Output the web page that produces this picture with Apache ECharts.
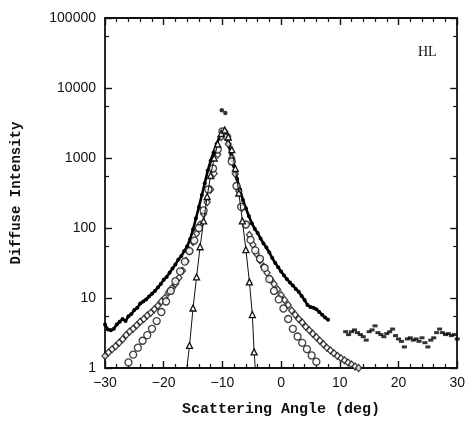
<!DOCTYPE html>
<html>
<head>
<meta charset="utf-8">
<script src="https://cdn.jsdelivr.net/npm/echarts@6/dist/echarts.min.js"></script>
<style>
  html, body { margin: 0; padding: 0; background: #fff; }
  #chart { width: 468px; height: 423px; }
</style>
</head>
<body>
<div id="chart"></div>
<script>
// measured intensity (filled dots), main curve
var measX = [-30, -29.5, -29, -28.5, -28, -27.5, -27, -26.5, -26, -25.5, -25, -24.5, -24, -23.5, -23, -22.5,
  -22, -21.5, -21, -20.5, -20, -19.5, -19, -18.5, -18, -17.5, -17, -16.5, -16, -15.5, -15, -14.5,
  -14, -13.5, -13, -12.5, -12, -11.5, -11, -10.5, -10, -9.5, -9, -8.5, -8, -7.5, -7, -6.5,
  -6, -5.5, -5, -4.5, -4, -3.5, -3, -2.5, -2, -1.5, -1, -0.5, 0, 0.5, 1, 1.5, 2, 2.5, 3, 3.5,
  4, 4.5, 5, 5.5, 6, 6.5, 7, 7.5, 8];
var measY = [4.17, 3.55, 3.47, 3.63, 4.17, 4.57, 5.01, 4.68, 5.5, 5.89, 6.76, 7.24, 8.32, 8.91, 9.55, 10.5,
  11.5, 12.6, 14.1, 15.8, 18.2, 20.0, 22.9, 26.3, 30.2, 35.5, 39.8, 46.8, 55.0, 69.2, 95.5, 138,
  200, 295, 437, 661, 912, 1202, 1585, 1995, 2512, 2239, 1585, 1122, 759, 501, 355, 251,
  191, 148, 117, 97.7, 85.1, 70.8, 60.3, 52.5, 44.7, 37.2, 31.6, 27.5, 24.0, 20.9, 18.6, 16.6, 15.1, 13.5, 12.3, 10.7,
  9.33, 7.94, 7.41, 7.24, 6.92, 6.31, 5.75, 5.25, 4.9];

// two stray points above the peak
var spikeX = [-10.1, -9.5];
var spikeY = [4800, 4400];

// background level beyond 11 deg
var tailX = [11, 11.5, 12, 12.5, 13, 13.5, 14, 14.5, 15, 15.5, 16, 16.5, 17, 17.5, 18, 18.5, 19, 19.5, 20,
  20.5, 21, 21.5, 22, 22.5, 23, 23.5, 24, 24.5, 25, 25.5, 26, 26.5, 27, 27.5, 28, 28.5, 29, 29.5, 30];
var tailY = [3.3, 3.0, 3.3, 3.5, 3.2, 3.0, 2.8, 2.5, 3.3, 3.5, 4.0, 3.2, 3.0, 2.8, 3.1, 3.3, 3.6, 2.9, 2.6,
  2.4, 2.0, 2.6, 2.7, 2.5, 2.6, 2.4, 2.7, 2.3, 2.0, 2.5, 2.7, 3.2, 3.6, 3.2, 3.0, 3.1, 2.9, 3.0, 2.6];

// open diamonds
var diamondX = [-30, -29.4, -28.8, -28.2, -27.6, -27, -26.4, -25.8, -25.2, -24.6, -24, -23.4, -22.8, -22.2,
  -21.6, -21, -20.4, -19.8, -19.2, -18.6, -18, -17.4, -16.8, -16.2, -15.6, -15, -14.4, -13.8, -13.2,
  -12.6, -12, -11.4, -10.8, -10.2, -9.6, -9, -8.4, -7.8, -7.2, -6.6, -6, -5.4, -4.8, -4.2, -3.6,
  -3, -2.4, -1.8, -1.2, -0.6, 0, 0.6, 1.2, 1.8, 2.4, 3, 3.6, 4.2, 4.8, 5.4, 6, 6.6, 7.2, 7.8,
  8.4, 9, 9.6, 10.2, 10.8, 11.4, 12, 12.6, 13.2];
var diamondY = [1.48, 1.66, 1.86, 2.04, 2.29, 2.57, 2.95, 3.31, 3.63, 4.07, 4.57, 5.01, 5.62, 6.17,
  6.92, 7.76, 8.91, 10, 12.0, 13.8, 15.8, 19.5, 24.5, 33.9, 46.8, 63.1, 83.2, 112, 158,
  234, 355, 603, 1122, 1995, 2399, 1585, 1000, 589, 339, 195, 112, 79.4, 57.5, 42.7, 34.7,
  28.2, 22.9, 18.6, 15.8, 13.2, 11.0, 9.33, 7.94, 6.61, 5.75, 5.01, 4.47, 3.89, 3.47, 3.09, 2.75, 2.45, 2.19, 1.95,
  1.78, 1.62, 1.48, 1.38, 1.29, 1.20, 1.12, 1.05, 1.0];

// open circles
var circleX = [-26, -25.2, -24.4, -23.6, -22.8, -22, -21.2, -20.4, -19.6, -18.8, -18, -17.2, -16.4, -15.6,
  -14.8, -14, -13.2, -12.4, -11.6, -10.8, -10, -9.2, -8.4, -7.6, -6.8, -6, -5.2, -4.4, -3.6, -2.8,
  -2, -1.2, -0.4, 0.4, 1.2, 2, 2.8, 3.6, 4.4, 5.2, 6];
var circleY = [1.2, 1.55, 1.95, 2.45, 2.95, 3.63, 4.68, 6.31, 8.91, 12.6, 17.4, 24.0, 33.1, 46.8,
  66.1, 100, 178, 355, 708, 1318, 2399, 1995, 891, 398, 200, 112, 67.6, 47.9, 36.3, 26.9,
  18.6, 12.6, 9.55, 7.08, 5.01, 3.63, 2.82, 2.29, 1.86, 1.51, 1.23];

// open triangles (narrow profile), ends run down to the axis
var triangleX = [-16.05, -15.6, -15, -14.4, -13.8, -13.2, -12.6, -12, -11.4, -10.8, -10.2, -9.6, -9,
  -8.4, -7.8, -7.2, -6.6, -6, -5.4, -4.9, -4.6, -4.4];
var triangleY = [1, 2.1, 7.2, 20, 54, 126, 282, 562, 1000, 1585, 2239, 2512, 1995,
  1318, 708, 316, 126, 49, 17, 5.8, 1.7, 1];

var xTicks = [-30, -20, -10, 0, 10, 20, 30];
var yTicks = [1, 10, 100, 1000, 10000, 100000];

function pairs(xs, ys) {
  return xs.map(function (x, i) { return [x, ys[i]]; });
}

var chart = echarts.init(document.getElementById('chart'));

var labelFont = 'Liberation Sans';
var tickStyle = { show: true, inside: true, length: 7, lineStyle: { color: '#111', width: 1.4 } };
var minorStyle = { show: true, length: 4, lineStyle: { color: '#111', width: 1.2 } };
var lineStyle = { show: true, onZero: false, lineStyle: { color: '#111', width: 1.8 } };

var openMarker = { color: '#fff', borderColor: '#111', borderWidth: 1.3 };

var option = {
  animation: false,
  backgroundColor: '#fff',
  title: {
    text: 'HL',
    left: 413,
    top: 40,
    textStyle: { fontFamily: 'Liberation Serif', fontSize: 14, fontWeight: 'normal', color: '#111' }
  },
  grid: { left: 105, right: 9, top: 18, bottom: 55 },
  xAxis: [{
    type: 'value',
    min: xTicks[0],
    max: xTicks[xTicks.length - 1],
    interval: 10,
    name: 'Scattering Angle (deg)',
    nameLocation: 'middle',
    nameGap: 34,
    nameTextStyle: { fontFamily: 'Liberation Mono', fontWeight: 'bold', fontSize: 15, color: '#111' },
    axisLine: lineStyle,
    axisTick: tickStyle,
    minorTick: Object.assign({ splitNumber: 5 }, minorStyle),
    splitLine: { show: false },
    axisLabel: {
      fontFamily: labelFont, fontSize: 14, color: '#111', margin: 8,
      formatter: function (v) { return String(v).replace('-', '\u2212'); }
    }
  }, {
    type: 'value',
    position: 'top',
    min: xTicks[0],
    max: xTicks[xTicks.length - 1],
    interval: 10,
    axisLine: lineStyle,
    axisTick: tickStyle,
    minorTick: Object.assign({ splitNumber: 5 }, minorStyle),
    splitLine: { show: false },
    axisLabel: { show: false }
  }],
  yAxis: [{
    type: 'log',
    logBase: 10,
    position: 'left',
    min: yTicks[0],
    max: yTicks[yTicks.length - 1],
    name: 'Diffuse Intensity',
    nameLocation: 'middle',
    nameGap: 82,
    nameTextStyle: { fontFamily: 'Liberation Mono', fontWeight: 'bold', fontSize: 14, color: '#111' },
    axisLine: lineStyle,
    axisTick: tickStyle,
    minorTick: Object.assign({ splitNumber: 2 }, minorStyle),
    splitLine: { show: false },
    axisLabel: {
      fontFamily: labelFont, fontSize: 14, color: '#111', margin: 9,
      formatter: function (v) { return String(Math.round(v)); }
    }
  }, {
    type: 'log',
    logBase: 10,
    position: 'right',
    min: yTicks[0],
    max: yTicks[yTicks.length - 1],
    axisLine: lineStyle,
    axisTick: tickStyle,
    minorTick: Object.assign({ splitNumber: 2 }, minorStyle),
    splitLine: { show: false },
    axisLabel: { show: false }
  }],
  series: [
    {
      type: 'line',
      data: pairs(measX, measY),
      symbol: 'circle',
      symbolSize: 4,
      itemStyle: { color: '#000' },
      lineStyle: { color: '#000', width: 2.6 },
      z: 2
    },
    {
      type: 'scatter',
      data: pairs(spikeX, spikeY),
      symbol: 'circle',
      symbolSize: 4.5,
      itemStyle: { color: '#000' },
      z: 2
    },
    {
      type: 'scatter',
      data: pairs(tailX, tailY),
      symbol: 'rect',
      symbolSize: [5, 3],
      itemStyle: { color: '#000' },
      z: 2
    },
    {
      type: 'scatter',
      data: pairs(diamondX, diamondY),
      symbol: 'diamond',
      symbolSize: [6, 7],
      itemStyle: openMarker,
      z: 3
    },
    {
      type: 'scatter',
      data: pairs(circleX, circleY),
      symbol: 'circle',
      symbolSize: 7,
      itemStyle: openMarker,
      z: 4
    },
    {
      type: 'line',
      data: pairs(triangleX, triangleY).map(function (p, i) {
        var end = i === 0 || i === triangleX.length - 1;
        return end ? { value: p, symbol: 'none' } : p;
      }),
      symbol: 'triangle',
      symbolSize: 6,
      itemStyle: openMarker,
      lineStyle: { color: '#111', width: 1 },
      z: 5
    }
  ]
};

chart.setOption(option);
</script>
</body>
</html>
